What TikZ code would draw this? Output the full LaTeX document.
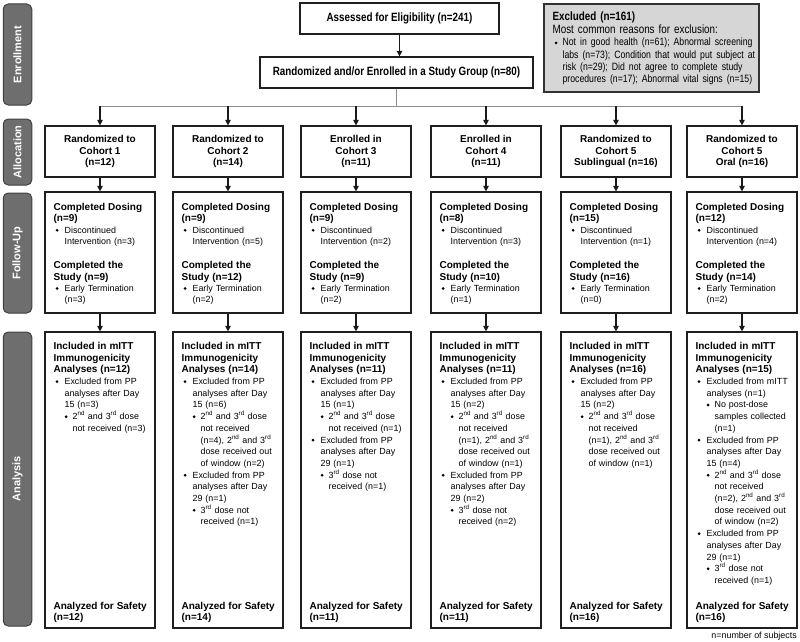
\documentclass[tikz,border=0pt]{standalone}
\usepackage{fontspec}
\setmainfont{Liberation Sans}
\newfontfamily\narrowf[FakeStretch=0.82]{Liberation Sans}
\usetikzlibrary{arrows.meta,calc}

\newcommand\dia{\raisebox{1.4pt}{\rotatebox{45}{\rule{2.1pt}{2.1pt}}}}
\newcommand\bulA{\makebox[11pt][l]{\hspace{2pt}\dia}}
\newcommand\contA{\hspace*{11pt}}
\newcommand\bulB{\hspace*{11pt}\makebox[8pt][l]{\dia}}
\newcommand\contB{\hspace*{19pt}}
\newcommand\supnd{\textsuperscript{nd}}
\newcommand\suprd{\textsuperscript{rd}}
\newcommand\ttl[1]{{\fontsize{10}{11.7}\selectfont\bfseries #1}}
\newcommand\smallx[1]{{\fontsize{10.6}{12.4}\selectfont #1}}
\newcommand\futext[4]{\ttl{Completed Dosing}\\\ttl{(n=#1)}\\\bulA Discontinued\\\contA Intervention (n=#2)\\[12.6pt]\ttl{Completed the}\\\ttl{Study (n=#3)}\\\bulA Early Termination\\\contA (n=#4)}
\newcommand\antitle[1]{\ttl{Included in mITT}\\\ttl{Immunogenicity}\\\ttl{Analyses (n=#1)}}

\tikzset{
  box/.style={draw=black!88, line width=1.2pt, fill=white, inner sep=0pt},
  colbox/.style={box, minimum width=110pt},
  allocbox/.style={colbox, minimum height=51pt, align=center, font=\fontsize{10}{11.4}\selectfont\bfseries},
  fubox/.style={colbox, minimum height=121pt},
  anbox/.style={colbox, minimum height=296pt},
  side/.style={draw=black!75, fill=black!57, rounded corners=5pt, line width=1pt, minimum width=28.5pt, inner sep=0pt},
  sidetxt/.style={rotate=90, text=white, inner sep=0pt, font=\fontsize{11}{13}\selectfont\bfseries},
  arr/.style={-{Triangle[width=5.5pt,length=5.5pt]}, line width=1.1pt, draw=black!90},
  busline/.style={draw=black!45, line width=0.9pt},
  futxt/.style={anchor=base west, inner sep=0pt, text width=104pt, align=left, font=\fontsize{8.9}{11.4}\selectfont},
  antxt/.style={anchor=base west, inner sep=0pt, text width=104pt, align=left, font=\fontsize{8.9}{11.7}\selectfont},
  toptxt/.style={font=\narrowf\fontsize{12}{13}\selectfont\bfseries},
}

\begin{document}
\begin{tikzpicture}[x=1pt,y=-1pt]
\useasboundingbox (0,0) rectangle (800,642);

% side labels
\node[side, minimum height=101pt] (sEnr) at (17.5,54.5) {};
\node[sidetxt] at (sEnr) {Enrollment};
\node[side, minimum height=66pt] (sAll) at (17.5,152) {};
\node[sidetxt] at (sAll) {Allocation};
\node[side, minimum height=120pt] (sFol) at (17.5,253) {};
\node[sidetxt] at (sFol) {Follow-Up};
\node[side, minimum height=294pt] (sAna) at (17.5,479) {};
\node[sidetxt] at (sAna) {Analysis};

% enrollment
\node[box, toptxt, minimum width=199pt, minimum height=31pt] (ass) at (399.5,18.5) {Assessed for Eligibility (n=241)};
\node[box, toptxt, minimum width=273pt, minimum height=31pt] (rand) at (396.5,72.5) {Randomized and/or Enrolled in a Study Group (n=80)};
\node[box, fill=black!16, draw=black!80, minimum width=215pt, minimum height=88pt] (exc) at (651.5,48) {};
\node[anchor=base west, inner sep=0pt, text width=205pt, align=left, font=\narrowf\fontsize{12}{12.4}\selectfont] (exct) at ($(exc.north west)+(9,17.6)$)
  {\textbf{Excluded (n=161)}\\
   Most common reasons for exclusion:\\
   \smallx{\makebox[10pt][l]{\hspace{2pt}\dia}Not in good health (n=61); Abnormal screening}\\
   \smallx{\hspace*{10pt}labs (n=73); Condition that would put subject at}\\
   \smallx{\hspace*{10pt}risk (n=29); Did not agree to complete study}\\
   \smallx{\hspace*{10pt}procedures (n=17); Abnormal vital signs (n=15)}};

\draw[arr] (ass.south) -- (ass.south |- rand.north);
\coordinate (bus) at (396.5,106);

% allocation
\node[allocbox] (al1) at (100,151.5) {Randomized to\\Cohort 1\\(n=12)};
\node[allocbox] (al2) at (228,151.5) {Randomized to\\Cohort 2\\(n=14)};
\node[allocbox] (al3) at (356,151.5) {Enrolled in\\Cohort 3\\(n=11)};
\node[allocbox] (al4) at (486,151.5) {Enrolled in\\Cohort 4\\(n=11)};
\node[allocbox] (al5) at (616,151.5) {Randomized to\\Cohort 5\\Sublingual (n=16)};
\node[allocbox] (al6) at (742,151.5) {Randomized to\\Cohort 5\\Oral (n=16)};

\draw[busline] (rand.south) -- (bus);
\draw[busline] (al1.north |- bus) -- (al6.north |- bus);
\foreach \i in {1,...,6}{\draw[arr] (al\i.north |- bus) -- (al\i.north);}

% follow-up
\node[fubox] (fu1) at (100,252.5) {};
\node[fubox] (fu2) at (228,252.5) {};
\node[fubox] (fu3) at (356,252.5) {};
\node[fubox] (fu4) at (486,252.5) {};
\node[fubox] (fu5) at (616,252.5) {};
\node[fubox] (fu6) at (742,252.5) {};
\node[futxt] (ft1) at ($(fu1.north west)+(9,19)$) {\futext{9}{3}{9}{3}};
\node[futxt] (ft2) at ($(fu2.north west)+(9,19)$) {\futext{9}{5}{12}{2}};
\node[futxt] (ft3) at ($(fu3.north west)+(9,19)$) {\futext{9}{2}{9}{2}};
\node[futxt] (ft4) at ($(fu4.north west)+(9,19)$) {\futext{8}{3}{10}{1}};
\node[futxt] (ft5) at ($(fu5.north west)+(9,19)$) {\futext{15}{1}{16}{0}};
\node[futxt] (ft6) at ($(fu6.north west)+(9,19)$) {\futext{12}{4}{14}{2}};

% analysis
\node[anbox] (an1) at (100,480) {};
\node[anbox] (an2) at (228,480) {};
\node[anbox] (an3) at (356,480) {};
\node[anbox] (an4) at (486,480) {};
\node[anbox] (an5) at (616,480) {};
\node[anbox] (an6) at (742,480) {};

\node[antxt] (at1) at ($(an1.north west)+(9,18)$) {\antitle{12}\\
  \bulA Excluded from PP\\\contA analyses after Day\\\contA 15 (n=3)\\
  \bulB 2\supnd\ and 3\suprd\ dose\\\contB not received (n=3)};
\node[antxt] (at2) at ($(an2.north west)+(9,18)$) {\antitle{14}\\
  \bulA Excluded from PP\\\contA analyses after Day\\\contA 15 (n=6)\\
  \bulB 2\supnd\ and 3\suprd\ dose\\\contB not received\\\contB (n=4), 2\supnd\ and 3\suprd\\\contB dose received out\\\contB of window (n=2)\\
  \bulA Excluded from PP\\\contA analyses after Day\\\contA 29 (n=1)\\
  \bulB 3\suprd\ dose not\\\contB received (n=1)};
\node[antxt] (at3) at ($(an3.north west)+(9,18)$) {\antitle{11}\\
  \bulA Excluded from PP\\\contA analyses after Day\\\contA 15 (n=1)\\
  \bulB 2\supnd\ and 3\suprd\ dose\\\contB not received (n=1)\\
  \bulA Excluded from PP\\\contA analyses after Day\\\contA 29 (n=1)\\
  \bulB 3\suprd\ dose not\\\contB received (n=1)};
\node[antxt] (at4) at ($(an4.north west)+(9,18)$) {\antitle{11}\\
  \bulA Excluded from PP\\\contA analyses after Day\\\contA 15 (n=2)\\
  \bulB 2\supnd\ and 3\suprd\ dose\\\contB not received\\\contB (n=1), 2\supnd\ and 3\suprd\\\contB dose received out\\\contB of window (n=1)\\
  \bulA Excluded from PP\\\contA analyses after Day\\\contA 29 (n=2)\\
  \bulB 3\suprd\ dose not\\\contB received (n=2)};
\node[antxt] (at5) at ($(an5.north west)+(9,18)$) {\antitle{16}\\
  \bulA Excluded from PP\\\contA analyses after Day\\\contA 15 (n=2)\\
  \bulB 2\supnd\ and 3\suprd\ dose\\\contB not received\\\contB (n=1), 2\supnd\ and 3\suprd\\\contB dose received out\\\contB of window (n=1)};
\node[antxt] (at6) at ($(an6.north west)+(9,18)$) {\antitle{15}\\
  \bulA Excluded from mITT\\\contA analyses (n=1)\\
  \bulB No post-dose\\\contB samples collected\\\contB (n=1)\\
  \bulA Excluded from PP\\\contA analyses after Day\\\contA 15 (n=4)\\
  \bulB 2\supnd\ and 3\suprd\ dose\\\contB not received\\\contB (n=2), 2\supnd\ and 3\suprd\\\contB dose received out\\\contB of window (n=2)\\
  \bulA Excluded from PP\\\contA analyses after Day\\\contA 29 (n=1)\\
  \bulB 3\suprd\ dose not\\\contB received (n=1)};

\node[antxt] (sf1) at ($(an1.south west)+(9,-19.5)$) {\ttl{Analyzed for Safety}\\\ttl{(n=12)}};
\node[antxt] (sf2) at ($(an2.south west)+(9,-19.5)$) {\ttl{Analyzed for Safety}\\\ttl{(n=14)}};
\node[antxt] (sf3) at ($(an3.south west)+(9,-19.5)$) {\ttl{Analyzed for Safety}\\\ttl{(n=11)}};
\node[antxt] (sf4) at ($(an4.south west)+(9,-19.5)$) {\ttl{Analyzed for Safety}\\\ttl{(n=11)}};
\node[antxt] (sf5) at ($(an5.south west)+(9,-19.5)$) {\ttl{Analyzed for Safety}\\\ttl{(n=16)}};
\node[antxt] (sf6) at ($(an6.south west)+(9,-19.5)$) {\ttl{Analyzed for Safety}\\\ttl{(n=16)}};

\foreach \i in {1,...,6}{
  \draw[arr] (al\i.south) -- (fu\i.north);
  \draw[arr] (fu\i.south) -- (an\i.north);
}

\node[anchor=base east, inner sep=0pt, font=\fontsize{8.9}{10}\selectfont] (note) at (797,638) {n=number of subjects};
\end{tikzpicture}
\end{document}
